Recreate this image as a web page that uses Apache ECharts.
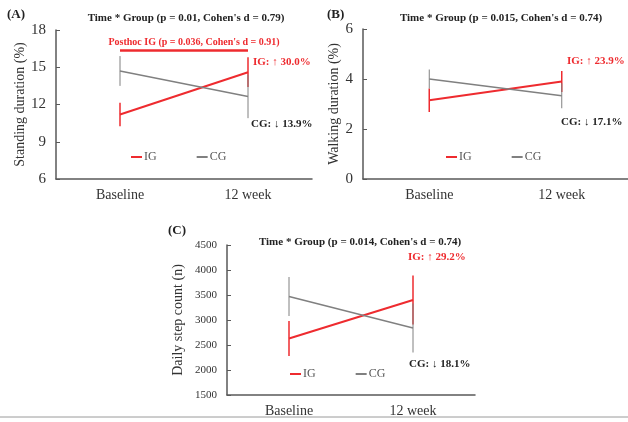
<!DOCTYPE html>
<html><head><meta charset="utf-8">
<script src="https://cdn.jsdelivr.net/npm/echarts@6/dist/echarts.min.js"></script>
<style>html,body{margin:0;padding:0;background:#fff}#c{width:628px;height:422px}</style>
</head><body><div id="c"></div>
<script>
const categories = ['Baseline', '12 week'];
const standIG = [11.2, 14.6];
const standIGErr = [0.95, 1.2];
const standCG = [14.7, 12.65];
const standCGErr = [1.2, 1.75];
const walkIG = [3.15, 3.9];
const walkIGErr = [0.47, 0.42];
const walkCG = [4.0, 3.33];
const walkCGErr = [0.38, 0.5];
const stepIG = [2630, 3400];
const stepIGErr = [350, 490];
const stepCG = [3470, 2840];
const stepCGErr = [390, 490];
const posthocA = 16.4;

const RED = '#ee2b2f', GREY = '#808080', AX = '#595959';
const FF = 'Liberation Serif';

function errData(mean, err) { return mean.map((m, i) => [i, m - err[i], m + err[i]]); }
function errSeries(idx, mean, err, color, width, z) {
  return {
    type: 'custom', xAxisIndex: idx, yAxisIndex: idx, z: z, silent: true,
    data: errData(mean, err),
    renderItem: function (params, api) {
      const a = api.coord([api.value(0), api.value(1)]);
      const b = api.coord([api.value(0), api.value(2)]);
      return { type: 'line', shape: { x1: a[0], y1: a[1], x2: b[0], y2: b[1] }, style: { stroke: color, lineWidth: width } };
    }
  };
}
function lineSeries(name, idx, data, color, width, z, extra) {
  return Object.assign({
    name: name, type: 'line', xAxisIndex: idx, yAxisIndex: idx, data: data, z: z,
    symbol: 'none', lineStyle: { color: color, width: width }, itemStyle: { color: color }
  }, extra || {});
}
function xAx(idx) {
  return {
    type: 'category', gridIndex: idx, data: categories, boundaryGap: true,
    axisLine: { lineStyle: { color: AX, width: 1.5 } }, axisTick: { show: false },
    axisLabel: { fontFamily: FF, fontSize: 14, color: '#333', margin: 9 }
  };
}
function yAx(idx, min, max, interval, name, gap, fs) {
  return {
    type: 'value', gridIndex: idx, min: min, max: max, interval: interval,
    name: name, nameLocation: 'middle', nameGap: gap,
    nameTextStyle: { fontFamily: FF, fontSize: 14, color: '#333' },
    axisLine: { show: true, lineStyle: { color: AX, width: 1.5 } },
    axisTick: { show: true, inside: true, length: 4, lineStyle: { color: AX } },
    splitLine: { show: false },
    axisLabel: { fontFamily: FF, fontSize: fs, color: '#333', margin: 10, formatter: function (v) { return String(v); } }
  };
}
function txt(t, x, y, size, color, bold, align) {
  return { type: 'text', x: x, y: y, silent: true,
    style: { text: t, font: (bold ? 'bold ' : '') + size + 'px "' + FF + '"', fill: color, align: align || 'center', verticalAlign: 'middle' } };
}
function leg(left, top) {
  return { data: ['IG', 'CG'], left: left, top: top, itemWidth: 11, itemHeight: 2, itemGap: 40, icon: 'rect',
    textStyle: { fontFamily: FF, fontSize: 12, color: '#555', padding: [0, 0, 0, -3] }, selectedMode: false };
}

const chart = echarts.init(document.getElementById('c'));
chart.setOption({
  animation: false,
  backgroundColor: '#fff',
  grid: [
    { left: 56, top: 30, width: 256, height: 149 },
    { left: 363, top: 29, width: 268, height: 150 },
    { left: 227, top: 245, width: 248, height: 150 }
  ],
  xAxis: [xAx(0), xAx(1), xAx(2)],
  yAxis: [
    yAx(0, 6, 18, 3, 'Standing duration (%)', 27, 15),
    yAx(1, 0, 6, 2, 'Walking duration (%)', 13, 15),
    yAx(2, 1500, 4500, 500, 'Daily step count (n)', 42, 11)
  ],
  legend: [leg(126, 146), leg(441, 146), leg(285, 363)],
  series: [
    lineSeries('IG', 0, standIG, RED, 2, 3, {
      markLine: { silent: true, symbol: 'none', label: { show: false },
        lineStyle: { color: RED, width: 2.5, type: 'solid' },
        data: [[{ coord: [0, posthocA] }, { coord: [1, posthocA] }]] }
    }),
    errSeries(0, standIG, standIGErr, RED, 1.5, 4),
    lineSeries('CG', 0, standCG, GREY, 1.5, 5),
    errSeries(0, standCG, standCGErr, GREY, 1, 6),

    lineSeries('IG', 1, walkIG, RED, 2, 3),
    errSeries(1, walkIG, walkIGErr, RED, 1.5, 4),
    lineSeries('CG', 1, walkCG, GREY, 1.5, 5),
    errSeries(1, walkCG, walkCGErr, GREY, 1, 6),

    lineSeries('IG', 2, stepIG, RED, 2, 3),
    errSeries(2, stepIG, stepIGErr, RED, 1.5, 4),
    lineSeries('CG', 2, stepCG, GREY, 1.5, 5),
    errSeries(2, stepCG, stepCGErr, GREY, 1, 6)
  ],
  graphic: [
    txt('(A)', 7, 15, 13, '#222', true, 'left'),
    txt("Time * Group (p = 0.01, Cohen's d = 0.79)", 186, 18, 11, '#222', true),
    txt("Posthoc IG (p = 0.036, Cohen's d = 0.91)", 194, 42, 10, RED, true),
    txt('IG: \u2191 30.0%', 253, 62, 11, RED, true, 'left'),
    txt('CG: \u2193 13.9%', 251, 124, 11, '#222', true, 'left'),

    txt('(B)', 327, 15, 13, '#222', true, 'left'),
    txt("Time * Group (p = 0.015, Cohen's d = 0.74)", 501, 18, 11, '#222', true),
    txt('IG: \u2191 23.9%', 567, 61, 11, RED, true, 'left'),
    txt('CG: \u2193 17.1%', 561, 122, 11, '#222', true, 'left'),

    txt('(C)', 168, 231, 13, '#222', true, 'left'),
    txt("Time * Group (p = 0.014, Cohen's d = 0.74)", 360, 242, 11, '#222', true),
    txt('IG: \u2191 29.2%', 408, 257, 11, RED, true, 'left'),
    txt('CG: \u2193 18.1%', 409, 364, 11, '#222', true, 'left'),

    { type: 'line', silent: true, shape: { x1: 0, y1: 417, x2: 628, y2: 417 }, style: { stroke: '#9a9a9a', lineWidth: 1 } }
  ]
});
</script></body></html>
